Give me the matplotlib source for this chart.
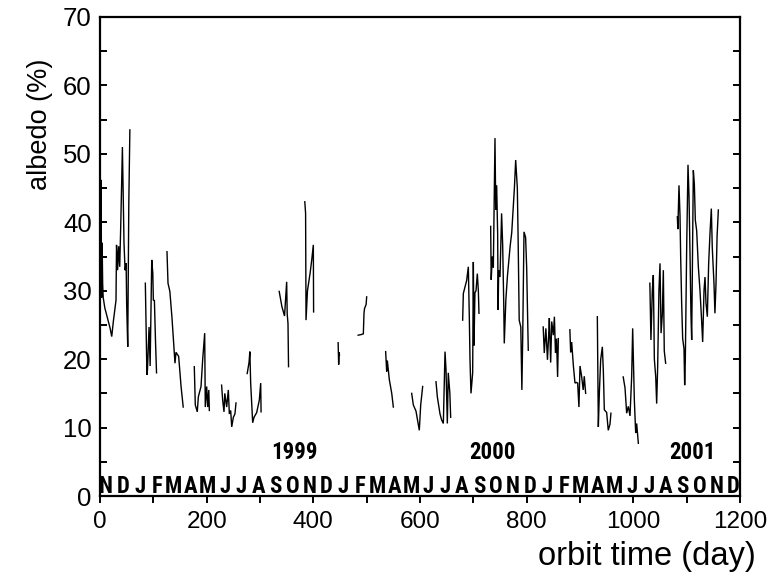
import os
import numpy as np
import matplotlib
matplotlib.use("Agg")
import matplotlib.pyplot as plt
from matplotlib import font_manager as fm
from matplotlib.patheffects import AbstractPathEffect
from matplotlib.transforms import Affine2D

nan = np.nan
# orbit time (day) and albedo (%) ; NaN marks data gaps
days = [
    1, 2, 3, 4, 5, 6, 9, 14, 19, 22, 25, 27, 30, 31, 33, 35, 37, 39, 42, 43, 45, 47, 49, 50, 52, 54, 56, nan,
    85, 88, 89, 92, 94, 97, 99, 100, 102, 104, 106, nan,
    125.6, 127.5, 131, 135, 139, 140.6, 142.5, 147.5, 152, 156, nan,
    176.8, 178.7, 182.4, 184.4, 189.4, 192.5, 194.4, 196.3, 197.4, 200, 202, 204, 205, nan,
    228, 230, 232.5, 234, 237.5, 240.6, 242.5, 245, 247, 250, 253, 255, nan,
    276, 279.4, 281, 282.5, 286.3, 288.75, 293.8, 298.7, 301.3, 302, nan,
    336, 341, 346, 350, 351, 352.5, 353.5, nan,
    384, 385.5, 386.3, 389, 394, 397, 400, 400.5, nan,
    446.5, 447.5, 448.5, 449, nan,
    484, 490, 493.75, 495, 496, 499, 500, nan,
    535.6, 537.5, 538.75, 542.5, 547, 550, nan,
    584.4, 587.5, 592.5, 598.7, 601.3, 605, nan,
    630, 632.5, 637.5, 640.6, 643.75, 646.9, 648.75, 651.25, 653, 656, 657.5, nan,
    680, 681.25, 687.5, 690.6, 692.5, 693.75, 695.6, 698.75, 700, 701.25, 703, 705, 707.5, 709.4, 710.6, nan,
    732.5, 733.5, 735.6, 737.5, 738.75, 740.6, 742, 743.75, 745.6, 746.5, 747.5, 750, 753, 755, 757, 758,
    761, 764, 769, 772, 775, 777, 779.4, 782.5, 784, 786, 789, 791, 792.5, 795, 798, 800, 803, nan,
    831, 833, 836, 839, 841.25, 842.5, 845, 847, 850, 852, 854, 856, 858, 859.4, nan,
    881, 882.5, 884.4, 887.5, 890.6, 893, 895.6, 898, 900, 903, 906, 908, 910.6, nan,
    932.5, 934.4, 936.25, 938.75, 941.9, 943.75, 945.6, 950, 953, 956.25, 958, nan,
    981, 984.4, 987.5, 990.6, 993.75, 996.9, 998.75, 1001.9, 1004.4, 1006.25, 1009.4, nan,
    1031, 1033, 1035.6, 1037.5, 1039.4, 1042, 1043.75, 1045.6, 1048, 1050, 1052, 1054.4, 1056.25, 1058, 1060.6, nan,
    1082.5, 1083.5, 1085.6, 1087.5, 1088.75, 1090.6, 1092.5, 1095, 1096.25, 1097.5, 1098.75, 1100, 1102.5,
    1104.4, 1106.25, 1108, 1109.4, 1110.6, 1112.5, 1114.4, 1116.25, 1118.75, 1121.9, 1125, 1128, 1130,
    1132.5, 1134.4, 1136.25, 1138.75, 1141.25, 1143.75, 1146.25, 1148, 1151.25, 1153, 1155, 1157, 1159.4,
]
albedo = [
    38, 46.2, 29, 37, 31, 29, 27.5, 26, 24.5, 23.3, 25.5, 26.7, 28.6, 36.7, 33, 36.5, 33.5, 39.9, 51, 46, 37, 33, 34, 28, 21.8, 42.8, 53.5, nan,
    31.1, 17.7, 18.5, 24.7, 19, 34.5, 32.6, 28.6, 28.6, 22.8, 18, nan,
    35.7, 31.1, 29.9, 26, 21.3, 19.4, 21, 20.4, 16, 13, nan,
    18.9, 13.3, 12.3, 14.5, 16, 19.9, 21.8, 23.8, 13.0, 16, 13, 15.5, 12.5, nan,
    16.2, 14, 12.3, 15, 13, 15.5, 12, 12.5, 10.1, 11.5, 12, 13.6, nan,
    17.9, 19.5, 21.1, 16.5, 10.7, 11.5, 12.2, 14, 16.5, 12.3, nan,
    29.9, 27.7, 26.3, 31.3, 26.6, 25.2, 18.9, nan,
    43, 41.3, 25.7, 30, 32.6, 34.5, 36.7, 26.9, nan,
    22.4, 19.2, 21.0, 20.6, nan,
    23.5, 23.6, 23.7, 26.7, 27.4, 28, 29.1, nan,
    21.1, 18.2, 19.8, 17, 15, 13, nan,
    15, 13.3, 12.4, 9.6, 13.3, 16, nan,
    16.7, 14.5, 12, 11.1, 10.6, 21.1, 18.5, 10.6, 18, 15, 11.5, nan,
    25.7, 29.6, 31.5, 33.5, 26, 19.9, 15, 18, 34.2, 22, 29.7, 30, 32.5, 30, 26.7, nan,
    39.4, 31.6, 35, 33.4, 41.3, 52.3, 41.8, 45.4, 38.3, 27.2, 33, 32, 41.3, 36.7, 28.2, 22.3,
    28.7, 32.2, 36.5, 38.5, 42.5, 45, 49.1, 45, 37.5, 25.7, 24.7, 15.5, 22.8, 38.6, 37.8, 33.4, 21.3, nan,
    24.7, 20.9, 24.5, 19.9, 23.5, 26, 19.5, 25.5, 23.5, 26.2, 20.9, 23, 17.4, 23, nan,
    24.3, 21, 22.5, 19.1, 16.5, 16.6, 16.5, 13, 19, 17.5, 15.5, 17.5, 15, nan,
    26.2, 10.1, 15, 19.9, 21.8, 18.3, 12.6, 12.2, 9.6, 10.5, 12.1, nan,
    17.4, 15.8, 12.1, 13.1, 11.7, 17.5, 24.5, 14, 9.2, 10.6, 7.7, nan,
    31.1, 22.8, 30, 32.3, 20, 17.4, 13.5, 18.8, 30, 34, 23.8, 26.6, 33, 21.2, 19.4, nan,
    40.8, 39, 45.4, 41, 35, 28.2, 23, 21.5, 16.2, 20, 28.2, 36.2, 48.4,
    43.8, 35.5, 26.7, 22.8, 32.5, 47.6, 45.6, 40.3, 38.8, 33.5, 30, 25.7, 22.5,
    30, 32, 28.2, 26.2, 34, 38.4, 42, 36.3, 31, 26.7, 31, 37.9, 41.8,
]

month_letters = list("ND" + "JFMAMJJASOND" * 3)
month_first_day = 11
month_step = 31.8
year_labels = ["1999", "2000", "2001"]
year_days = [365, 735, 1110]

x_major = [0, 200, 400, 600, 800, 1000, 1200]
y_major = [0, 10, 20, 30, 40, 50, 60, 70]


# ---- pick a condensed bold sans face if one is installed ----
def _weight(f):
    w = f.weight
    if isinstance(w, (int, float)):
        return w
    return 700 if "bold" in str(w).lower() or "heavy" in str(w).lower() else 400


def _rank(f):
    n = f.name.lower()
    b = os.path.basename(f.fname).lower()
    if f.style != "normal" or "mono" in n or ("serif" in n and "sans" not in n):
        return None
    narrow = ("narrow" in n or "cond" in n or "cond" in b or
              str(f.stretch) in ("condensed", "semi-condensed", "extra-condensed", "ultra-condensed"))
    if not narrow or _weight(f) < 600:
        return None
    order = ["liberation sans narrow", "roboto condensed", "open sans", "noto sans", "lato", "inter"]
    for k, key in enumerate(order):
        if key in n:
            return k
    return 10 if "dejavu" not in n else 20


cands = [(r, f.fname) for f in fm.fontManager.ttflist if (r := _rank(f)) is not None]
cands.sort()
use_real_condensed = bool(cands) and cands[0][0] < 20


class Condense(AbstractPathEffect):
    """Draw text scaled about its centre (used only when no condensed face exists)."""

    def __init__(self, sx, sy=1.0):
        super().__init__()
        self.sx, self.sy = sx, sy

    def draw_path(self, renderer, gc, tpath, affine, rgbFace=None):
        bb = tpath.get_extents(affine)
        cx = 0.5 * (bb.x0 + bb.x1)
        t = affine + Affine2D().translate(-cx, -bb.y0).scale(self.sx, self.sy).translate(cx, bb.y0)
        renderer.draw_path(gc, tpath, t, rgbFace)


fig = plt.figure(figsize=(7.67, 5.81), dpi=100)
ax = fig.add_axes([100 / 767, 85 / 581, 640 / 767, 479 / 581])

ax.plot(days, albedo, color="black", lw=1.0, solid_joinstyle="miter")

ax.set_xlim(0, 1200)
ax.set_ylim(0, 70)
ax.set_xticks(x_major)
ax.set_xticks(np.arange(0, 1201, 100), minor=True)
ax.set_yticks(y_major)
ax.set_yticks(np.arange(0, 71, 5), minor=True)

ax.set_xticklabels([str(v) for v in x_major], fontdict={"family": "Liberation Sans", "size": 17.5})
ax.set_yticklabels([str(v) for v in y_major], fontdict={"family": "Liberation Sans", "size": 18.5})

ax.tick_params(axis="x", which="both", direction="out", length=5, width=1.4, pad=6)
ax.tick_params(axis="y", which="both", direction="in", length=5, width=1.4, pad=6,
               left=True, right=True)
for s in ax.spines.values():
    s.set_linewidth(1.6)

# size the month letters so neighbouring letters never overlap
renderer = fig.canvas.get_renderer()
if use_real_condensed:
    base_fp = fm.FontProperties(fname=cands[0][1])
else:
    base_fp = fm.FontProperties(family="Liberation Sans", weight="bold")
probe = base_fp.copy()
probe.set_size(20)
widths = [renderer.get_text_width_height_descent(m, probe, ismath=False)[0] for m in month_letters]
pair = max(0.5 * (a + b) for a, b in zip(widths[:-1], widths[1:]))
spacing_px = month_step / 1200 * 640 * fig.dpi / 100
month_size = min(20.0, 20.0 * (spacing_px - 1.5) / pair)

month_fp = base_fp.copy()
month_fp.set_size(month_size)
year_fp = base_fp.copy()
year_fp.set_size(16.5 if use_real_condensed else 15)

if use_real_condensed:
    m_fx, y_fx = [], []
else:
    grow = 19.5 / month_size
    m_fx = [Condense(0.75, min(grow, 1.35))]
    y_fx = [Condense(0.8, 1.1)]

for i, m in enumerate(month_letters):
    ax.text(month_first_day + i * month_step, 0.5, m, ha="center", va="baseline",
            fontproperties=month_fp, color="black", path_effects=m_fx)
for lab, d in zip(year_labels, year_days):
    ax.text(d, 5.4, lab, ha="center", va="baseline", fontproperties=year_fp,
            color="black", path_effects=y_fx)

fig.text(40 / 767, 1 - 124 / 581, "albedo (%)", rotation=90, ha="center", va="center",
         family="Liberation Sans", fontsize=19.5)
fig.text(647 / 767, 1 - 556 / 581, "orbit time (day)", ha="center", va="center",
         family="Liberation Sans", fontsize=23.5)

fig.savefig("out.png", dpi=100)
